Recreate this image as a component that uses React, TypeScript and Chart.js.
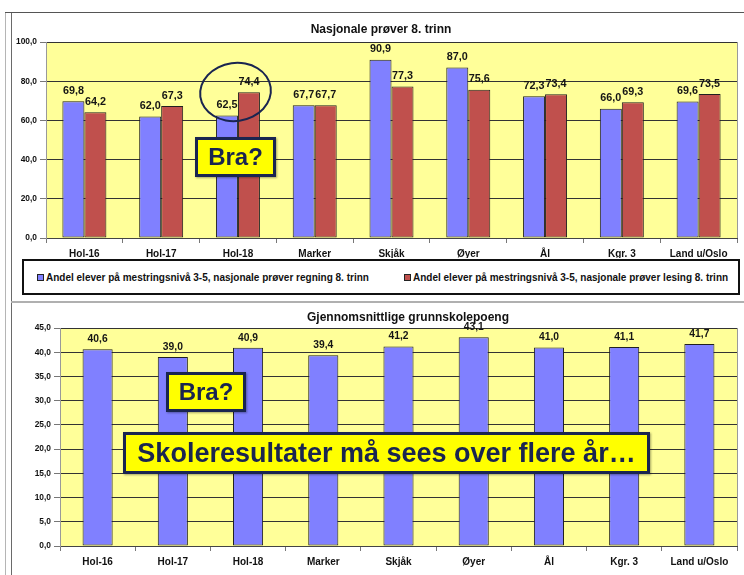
import React, { useEffect, useRef } from "react";
import { Chart, registerables } from "chart.js";

Chart.register(...registerables);

// ---- data ----
const categories = ["Hol-16", "Hol-17", "Hol-18", "Marker", "Skjåk", "Øyer", "Ål", "Kgr. 3", "Land u/Oslo"];
const regningValues = [69.8, 62.0, 62.5, 67.7, 90.9, 87.0, 72.3, 66.0, 69.6];
const lesingValues = [64.2, 67.3, 74.4, 67.7, 77.3, 75.6, 73.4, 69.3, 73.5];
const grunnskolepoengValues = [40.6, 39.0, 40.9, 39.4, 41.2, 43.1, 41.0, 41.1, 41.7];
const seriesLabels = [
  "Andel elever på mestringsnivå 3-5, nasjonale prøver regning 8. trinn",
  "Andel elever på mestringsnivå 3-5, nasjonale prøver lesing 8. trinn",
];
const topTitle = "Nasjonale prøver 8. trinn";
const bottomTitle = "Gjennomsnittlige grunnskolepoeng";
const topAxis = [0, 100, 20];
const bottomAxis = [0, 45, 5];
const annotationQuestion = "Bra?";
const annotationNote = "Skoleresultater må sees over flere år…";

// ---- style ----
const FONT = '"Liberation Sans", Arial, Helvetica, sans-serif';
const BLUE = "#8080FF";
const RED = "#C0504D";
const PLOT_BG = "#FFFF99";
const NAVY = "#1A2550";

const fmt = (v: number) => v.toFixed(1).replace(".", ",");

function plotBgPlugin() {
  return {
    id: "plotBg",
    beforeDraw(chart: any) {
      const { ctx, chartArea } = chart;
      const { left, top, width, height } = chartArea;
      ctx.save();
      ctx.fillStyle = PLOT_BG;
      ctx.fillRect(left, top, width, height);
      ctx.restore();
    },
    beforeDatasetsDraw(chart: any) {
      const { ctx, chartArea } = chart;
      ctx.save();
      ctx.strokeStyle = "#9a9a9a";
      ctx.lineWidth = 1;
      ctx.beginPath();
      ctx.moveTo(Math.round(chartArea.right) + 0.5, chartArea.top);
      ctx.lineTo(Math.round(chartArea.right) + 0.5, chartArea.bottom);
      ctx.stroke();
      ctx.restore();
    },
  };
}

function titlePlugin(text: string, x: number, y: number) {
  return {
    id: "fixedTitle",
    afterDraw(chart: any) {
      const ctx = chart.ctx;
      ctx.save();
      ctx.font = `bold 12px ${FONT}`;
      ctx.fillStyle = "#111";
      ctx.textAlign = "center";
      ctx.textBaseline = "middle";
      ctx.fillText(text, x, y);
      ctx.restore();
    },
  };
}

function barLabelPlugin(size: number, offset: number) {
  return {
    id: "barLabels",
    afterDatasetsDraw(chart: any) {
      const ctx = chart.ctx;
      ctx.save();
      ctx.font = `bold ${size}px ${FONT}`;
      ctx.fillStyle = "#151515";
      ctx.textAlign = "center";
      ctx.textBaseline = "bottom";
      chart.data.datasets.forEach((ds: any, di: number) => {
        const meta = chart.getDatasetMeta(di);
        meta.data.forEach((el: any, i: number) => {
          ctx.fillText(fmt(ds.data[i]), el.x, el.y - offset);
        });
      });
      ctx.restore();
    },
  };
}

function makeScales(range: number[], yWidth: number, xHeight: number) {
  return {
    x: {
      grid: {
        offset: true,
        drawOnChartArea: false,
        drawTicks: true,
        tickLength: 5,
        tickColor: "#777",
      },
      border: { color: "#444", width: 1 },
      ticks: {
        color: "#111",
        padding: 5,
        maxRotation: 0,
        autoSkip: false,
        font: { family: FONT, size: 10, weight: "bold" },
      },
      afterFit(s: any) {
        s.height = xHeight;
      },
    },
    y: {
      min: range[0],
      max: range[1],
      grid: {
        color: "#333",
        lineWidth: 1,
        drawTicks: true,
        tickLength: 6,
        tickColor: "#777",
      },
      border: { color: "#999", width: 1 },
      ticks: {
        stepSize: range[2],
        color: "#111",
        padding: 3,
        font: { family: FONT, size: 8.4, weight: "bold" },
        callback: (v: any) => fmt(Number(v)),
      },
      afterFit(s: any) {
        s.width = yWidth;
      },
    },
  };
}

export default function App() {
  const topRef = useRef<HTMLCanvasElement | null>(null);
  const bottomRef = useRef<HTMLCanvasElement | null>(null);

  useEffect(() => {
    Chart.defaults.font.family = FONT;
    const top = new Chart(topRef.current as HTMLCanvasElement, {
      type: "bar",
      data: {
        labels: categories,
        datasets: [
          {
            label: seriesLabels[0],
            data: regningValues,
            backgroundColor: BLUE,
            borderColor: "#202020",
            borderWidth: 1,
            borderSkipped: false,
            categoryPercentage: 0.573,
            barPercentage: 1,
          },
          {
            label: seriesLabels[1],
            data: lesingValues,
            backgroundColor: RED,
            borderColor: "#202020",
            borderWidth: 1,
            borderSkipped: false,
            categoryPercentage: 0.573,
            barPercentage: 1,
          },
        ],
      },
      options: {
        responsive: false,
        animation: false,
        layout: { padding: { top: 42, right: 7, left: 0, bottom: 0 } },
        plugins: {
          legend: { display: false },
          title: { display: false },
          tooltip: { enabled: false },
        },
        scales: makeScales(topAxis, 46, 20) as any,
      },
      plugins: [plotBgPlugin(), barLabelPlugin(10.8, 5), titlePlugin(topTitle, 381, 30)],
    });

    const bottom = new Chart(bottomRef.current as HTMLCanvasElement, {
      type: "bar",
      data: {
        labels: categories,
        datasets: [
          {
            label: bottomTitle,
            data: grunnskolepoengValues,
            backgroundColor: BLUE,
            borderColor: "#202020",
            borderWidth: 1,
            borderSkipped: false,
            categoryPercentage: 0.4,
            barPercentage: 1,
          },
        ],
      },
      options: {
        responsive: false,
        animation: false,
        layout: { padding: { top: 28, right: 7, left: 0, bottom: 0 } },
        plugins: {
          legend: { display: false },
          title: { display: false },
          tooltip: { enabled: false },
        },
        scales: makeScales(bottomAxis, 60, 29) as any,
      },
      plugins: [plotBgPlugin(), barLabelPlugin(10.3, 5), titlePlugin(bottomTitle, 408, 18)],
    });

    return () => {
      top.destroy();
      bottom.destroy();
    };
  }, []);

  const boxStyle: React.CSSProperties = {
    position: "absolute",
    background: "#FFFF00",
    border: `3px solid ${NAVY}`,
    boxSizing: "border-box",
    color: NAVY,
    fontFamily: FONT,
    fontWeight: "bold",
    display: "flex",
    alignItems: "center",
    justifyContent: "center",
    whiteSpace: "nowrap",
    boxShadow: "1px 1px 2px rgba(0,0,0,0.35)",
  };

  const legendItem = (color: string, text: string, left: number) => (
    <div
      style={{
        position: "absolute",
        left,
        top: 0,
        height: "100%",
        display: "flex",
        alignItems: "center",
        fontFamily: FONT,
        fontWeight: "bold",
        fontSize: 10,
        color: "#111",
        whiteSpace: "nowrap",
      }}
    >
      <span
        style={{
          display: "inline-block",
          width: 5,
          height: 5,
          background: color,
          border: "1px solid #222",
          marginRight: 2,
        }}
      />
      {text}
    </div>
  );

  return (
    <div
      style={{
        position: "fixed",
        left: 0,
        top: 0,
        width: 744,
        height: 575,
        background: "#fff",
        overflow: "hidden",
      }}
    >
      {/* frame lines */}
      <div style={{ position: "absolute", left: 5, top: 12, width: 1, height: 563, background: "#b5b5b5" }} />
      <div style={{ position: "absolute", left: 11, top: 12, width: 1, height: 563, background: "#6a6a6a" }} />
      <div style={{ position: "absolute", left: 5, top: 12, width: 739, height: 1, background: "#555" }} />
      <div style={{ position: "absolute", left: 11, top: 301, width: 733, height: 2, background: "#b0b0b0" }} />

      <canvas
        ref={topRef}
        width={744}
        height={258}
        style={{ position: "absolute", left: 0, top: 0, width: 744, height: 258 }}
      />
      <canvas
        ref={bottomRef}
        width={744}
        height={275}
        style={{ position: "absolute", left: 0, top: 300, width: 744, height: 275 }}
      />

      {/* legend */}
      <div
        style={{
          position: "absolute",
          left: 22,
          top: 259,
          width: 718,
          height: 36,
          border: "2px solid #111",
          boxSizing: "border-box",
          background: "#fff",
        }}
      >
        {legendItem(BLUE, seriesLabels[0], 13)}
        {legendItem(RED, seriesLabels[1], 380)}
      </div>

      {/* annotations */}
      <div
        style={{
          position: "absolute",
          left: 199,
          top: 62,
          width: 73,
          height: 60,
          border: `2px solid ${NAVY}`,
          borderRadius: "50%",
          boxSizing: "border-box",
          transform: "rotate(-8deg)",
        }}
      />
      <div style={{ ...boxStyle, left: 195, top: 137, width: 81, height: 40, fontSize: 24 }}>{annotationQuestion}</div>
      <div style={{ ...boxStyle, left: 166, top: 372, width: 80, height: 40, fontSize: 24 }}>{annotationQuestion}</div>
      <div style={{ ...boxStyle, left: 123, top: 432, width: 527, height: 42, fontSize: 27 }}>{annotationNote}</div>
    </div>
  );
}
